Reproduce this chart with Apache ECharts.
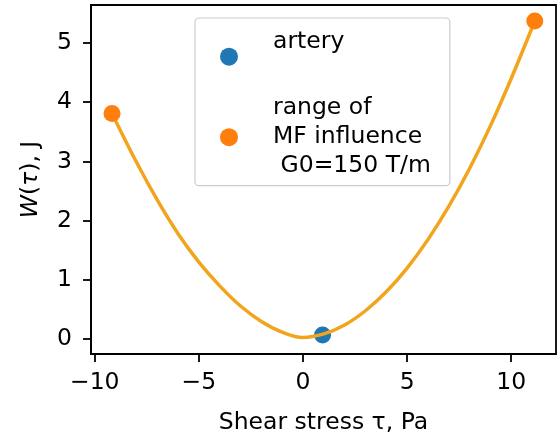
<!DOCTYPE html>
<html>
<head>
<meta charset="utf-8">
<script src="https://cdn.jsdelivr.net/npm/echarts@6/dist/echarts.min.js"></script>
<style>
html,body{margin:0;padding:0;background:#fff;}
#chart{width:558px;height:440px;}
</style>
</head>
<body>
<div id="chart"></div>
<script>
// ---- data ----
const curveTau = [-9.17, -8, -7, -6, -5, -4, -3, -2, -1, 0, 1, 2, 3, 4, 5, 6, 7, 8, 9, 10, 11.13];
const curveW   = [3.81, 2.99, 2.35, 1.78, 1.30, 0.90, 0.56, 0.30, 0.12, 0.03, 0.09, 0.24, 0.48, 0.80, 1.20, 1.68, 2.24, 2.88, 3.60, 4.40, 5.37];
const arteryTau = [0.94];
const arteryW   = [0.07];
const rangeTau  = [-9.17, 11.13];
const rangeW    = [3.81, 5.37];
const xTicks = [-10, -5, 0, 5, 10];
const yTicks = [0, 1, 2, 3, 4, 5];
const seriesNames = ['artery\n', 'range of\nMF influence\n G0=150 T/m'];

const zip = (a, b) => a.map((v, i) => [v, b[i]]);
const fmt = v => (v < 0 ? '\u2212' + Math.abs(v) : String(v));
const FONT = 'DejaVu Sans';
const FS = 23.5;

const chart = echarts.init(document.getElementById('chart'), null, {renderer: 'canvas'});
chart.setOption({
  animation: false,
  backgroundColor: '#ffffff',
  textStyle: {fontFamily: FONT},
  grid: {left: 91, right: 2, top: 5, bottom: 83.5, show: true, borderColor: '#000', borderWidth: 1.8, backgroundColor: 'transparent'},
  xAxis: {
    type: 'value', min: -10.18, max: 12.15,
    splitLine: {show: false},
    axisLine: {show: true, onZero: false, lineStyle: {color: '#000', width: 1.8}},
    axisTick: {show: true, length: 8, inside: false, lineStyle: {color: '#000', width: 1.8}, customValues: xTicks},
    axisLabel: {customValues: xTicks, formatter: fmt, color: '#000', fontSize: FS, fontFamily: FONT, margin: 17},
    name: 'Shear stress \u03c4, Pa', nameLocation: 'middle', nameGap: 57,
    nameTextStyle: {color: '#000', fontSize: FS, fontFamily: FONT}
  },
  yAxis: {
    type: 'value', min: -0.25, max: 5.64,
    splitLine: {show: false},
    axisLine: {show: true, onZero: false, lineStyle: {color: '#000', width: 1.8}},
    axisTick: {show: true, length: 8, inside: false, lineStyle: {color: '#000', width: 1.8}, customValues: yTicks},
    axisLabel: {customValues: yTicks, formatter: fmt, color: '#000', fontSize: FS, fontFamily: FONT, margin: 19},
    name: '{i|W}({i|\u03c4}), J', nameLocation: 'middle', nameGap: 48,
    nameTextStyle: {color: '#000', fontSize: FS, fontFamily: FONT,
      rich: {i: {fontStyle: 'italic', fontSize: FS, fontFamily: FONT, color: '#000'}}}
  },
  legend: {
    data: seriesNames,
    orient: 'vertical',
    left: 195, top: 18,
    padding: [4.7, 19, 0, 25],
    itemGap: -2,
    itemWidth: 18, itemHeight: 18,
    icon: 'circle',
    backgroundColor: 'rgba(255,255,255,0.8)',
    borderColor: '#cccccc', borderWidth: 1.2, borderRadius: 4,
    textStyle: {color: '#000', fontSize: FS, fontFamily: FONT, lineHeight: 29, padding: [0, 0, 10, 30]}
  },
  series: [
    {
      name: seriesNames[0], type: 'scatter', data: zip(arteryTau, arteryW),
      symbol: 'circle', symbolSize: 17, itemStyle: {color: '#1f77b4', opacity: 1}, z: 2
    },
    {
      name: 'curve', type: 'line', data: zip(curveTau, curveW),
      smooth: 0.4, showSymbol: false, symbol: 'none',
      lineStyle: {color: '#f2a51c', width: 3.5}, z: 3
    },
    {
      name: seriesNames[1], type: 'scatter', data: zip(rangeTau, rangeW),
      symbol: 'circle', symbolSize: 17, itemStyle: {color: '#ff7f0e', opacity: 1}, z: 4
    }
  ]
});
</script>
</body>
</html>
